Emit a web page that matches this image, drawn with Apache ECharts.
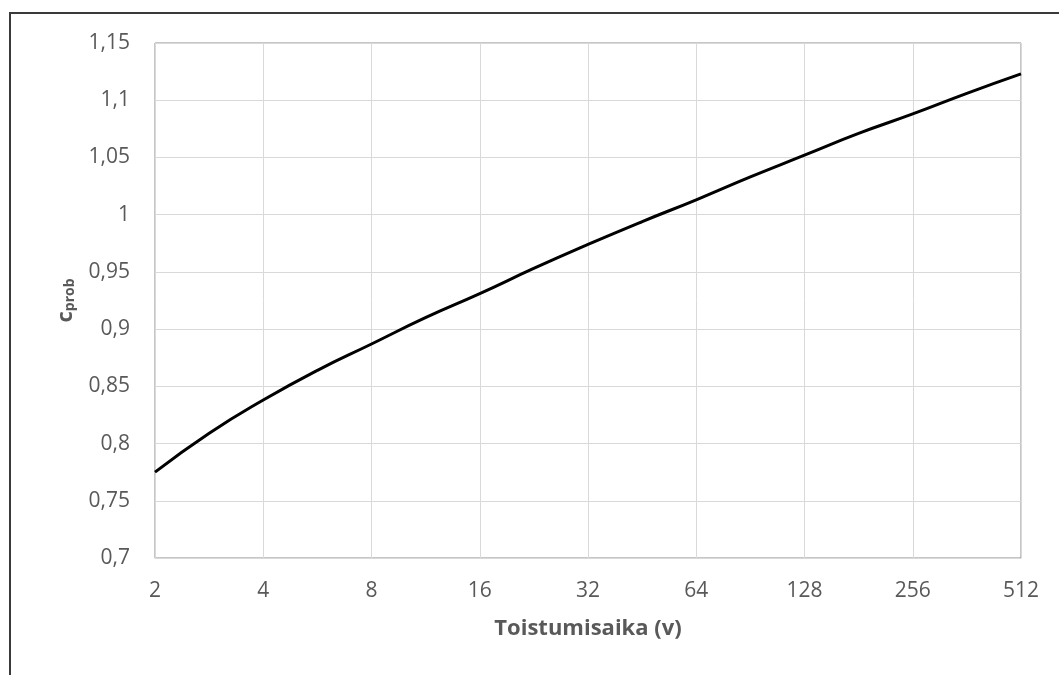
<!DOCTYPE html>
<html>
<head>
<meta charset="utf-8">
<script src="https://cdn.jsdelivr.net/npm/echarts@6/dist/echarts.min.js"></script>
<style>
html,body{margin:0;padding:0;background:#fff;}
#chart{width:1059px;height:675px;}
</style>
</head>
<body>
<div id="chart"></div>
<script>
// Return period (years) and c_prob values (half-octave steps)
const returnPeriods = [2, 2.83, 4, 5.66, 8, 11.3, 16, 22.6, 32, 45.3, 64, 90.5, 128, 181, 256, 362, 512];
const cProb = [0.775, 0.809, 0.838, 0.864, 0.887, 0.910, 0.931, 0.953, 0.974, 0.994, 1.013, 1.033, 1.052, 1.071, 1.088, 1.106, 1.123];
const xTicks = [2, 4, 8, 16, 32, 64, 128, 256, 512];
const yTickMin = 0.7, yTickMax = 1.15, yTickStep = 0.05;

const chart = echarts.init(document.getElementById('chart'));
const font = '"Open Sans", "Noto Sans", sans-serif';
chart.setOption({
  animation: false,
  backgroundColor: '#fff',
  graphic: [{
    type: 'rect',
    shape: {x: 10, y: 13, width: 1200, height: 800},
    style: {fill: 'none', stroke: '#3a3a3a', lineWidth: 2},
    silent: true, z: -1
  }],
  grid: {
    left: 155, right: 38, top: 43, bottom: 117,
    show: true, borderColor: '#8c8c8c', borderWidth: 1, backgroundColor: 'transparent'
  },
  xAxis: {
    type: 'log',
    logBase: 2,
    min: xTicks[0],
    max: xTicks[xTicks.length - 1],
    splitNumber: 8,
    name: 'Toistumisaika (v)',
    nameLocation: 'middle',
    nameGap: 60,
    nameTextStyle: {fontFamily: font, fontSize: 22, fontWeight: 'bold', color: '#595959'},
    axisLine: {show: true, lineStyle: {color: '#d9d9d9', width: 1}},
    axisTick: {show: false},
    axisLabel: {fontFamily: font, fontSize: 21, color: '#595959', margin: 23},
    splitLine: {show: true, lineStyle: {color: '#d9d9d9', width: 1}},
    minorTick: {show: false},
    minorSplitLine: {show: false}
  },
  yAxis: {
    type: 'value',
    min: yTickMin,
    max: yTickMax,
    interval: yTickStep,
    name: '{c|c}{s|prob}',
    nameLocation: 'middle',
    nameGap: 78,
    nameRotate: 90,
    nameTextStyle: {
      color: '#595959',
      rich: {
        c: {fontFamily: font, fontSize: 22, fontWeight: 'bold', color: '#595959'},
        s: {fontFamily: font, fontSize: 14, fontWeight: 'bold', color: '#595959', padding: [9, 0, 0, 0]}
      }
    },
    axisLine: {show: true, lineStyle: {color: '#d9d9d9', width: 1}},
    axisTick: {show: false},
    axisLabel: {
      fontFamily: font, fontSize: 21, color: '#595959', margin: 25,
      formatter: v => String(+v.toFixed(2)).replace('.', ',')
    },
    splitLine: {show: true, lineStyle: {color: '#d9d9d9', width: 1}}
  },
  series: [{
    type: 'line',
    data: returnPeriods.map((t, i) => [t, cProb[i]]),
    smooth: true,
    showSymbol: false,
    lineStyle: {color: '#000', width: 3},
    z: 5
  }]
});
</script>
</body>
</html>
